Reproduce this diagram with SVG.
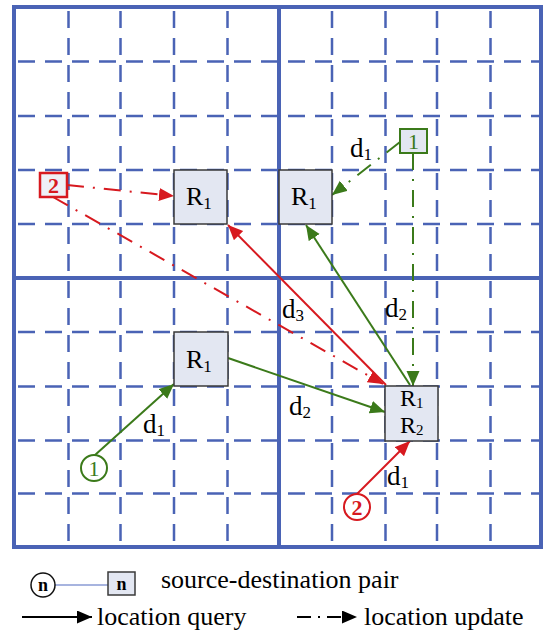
<svg xmlns="http://www.w3.org/2000/svg" width="543" height="635" viewBox="0 0 543 635">
<defs>
<marker id="ag" markerUnits="userSpaceOnUse" markerWidth="16" markerHeight="14" refX="15" refY="6.5" orient="auto"><path d="M0,0 L15,6.5 L0,13 z" fill="#3b7a1a"/></marker>
<marker id="ar" markerUnits="userSpaceOnUse" markerWidth="16" markerHeight="14" refX="15" refY="6.5" orient="auto"><path d="M0,0 L15,6.5 L0,13 z" fill="#d7191f"/></marker>
<marker id="ak" markerUnits="userSpaceOnUse" markerWidth="16" markerHeight="14" refX="15" refY="6.5" orient="auto"><path d="M0,0 L15,6.5 L0,13 z" fill="#000"/></marker>
</defs>
<style>
.grid{stroke:#4a63b5;stroke-width:2.5;stroke-dasharray:17 10;stroke-dashoffset:-4;fill:none}
.frame{stroke:#4a63b5;stroke-width:4;fill:none}
.box{fill:#e3e7f2;stroke:#3a3a3a;stroke-width:1.5}
.t{font-family:"Liberation Serif","Times New Roman",serif;font-size:26px;fill:#000}
.d{font-size:27px}
.sub{font-size:17px}
.gq{stroke:#3b7a1a;stroke-width:2;fill:none;marker-end:url(#ag)}
.gu{stroke:#3b7a1a;stroke-width:2;fill:none;stroke-dasharray:17 9 2 9;marker-end:url(#ag)}
.rq{stroke:#d7191f;stroke-width:2;fill:none;marker-end:url(#ar)}
.ru{stroke:#d7191f;stroke-width:2;fill:none;stroke-dasharray:17 9 2 9;marker-end:url(#ar)}
.g{fill:#3b7a1a}
.r{fill:#d7191f}
</style>
<rect width="543" height="635" fill="#fff"/>
<g id="grid">
<path class="grid" d="M68.5,7V547M120.5,7V547M174,7V547M227.5,7V547M332,7V547M385.5,7V547M437,7V547M490.5,7V547"/>
<path class="grid" d="M14,61.5H541M14,116H541M14,170H541M14,224H541M14,332H541M14,386.5H541M14,440.5H541M14,493.5H541"/>
<rect class="frame" x="14" y="7" width="527" height="540"/>
<path class="frame" d="M279,7V547M14,278H541"/>
</g>
<g id="connectors">
<line class="gq" x1="95" y1="455" x2="174" y2="384"/>
<line class="gq" x1="228" y1="358" x2="385" y2="412"/>
<line class="gq" x1="410" y1="385" x2="306" y2="225"/>
<line class="gu" x1="413" y1="153" x2="413" y2="386"/>
<line class="gu" x1="400" y1="142" x2="332" y2="195"/>
<line class="rq" x1="357" y1="494" x2="410" y2="441"/>
<line class="rq" x1="386" y1="385" x2="228" y2="225"/>
<line class="ru" x1="67" y1="185" x2="174" y2="196"/>
<line class="ru" x1="53" y1="197" x2="383" y2="384"/>
</g>
<g id="R1a"><rect class="box" x="174" y="170" width="53" height="54"/><text class="t" x="186" y="205">R<tspan class="sub" dy="4">1</tspan></text></g>
<g id="R1b"><rect class="box" x="279" y="170" width="53" height="54"/><text class="t" x="291" y="205">R<tspan class="sub" dy="4">1</tspan></text></g>
<g id="R1c"><rect class="box" x="174" y="332" width="54" height="54"/><text class="t" x="186" y="368">R<tspan class="sub" dy="4">1</tspan></text></g>
<g id="R12"><rect class="box" x="385" y="386" width="53" height="55"/><text class="t" x="400" y="406" style="font-size:24px">R<tspan dy="2" style="font-size:15px">1</tspan></text><text class="t" x="400" y="433" style="font-size:24px">R<tspan dy="2" style="font-size:15px">2</tspan></text></g>
<g id="src1"><circle cx="94" cy="468" r="13" fill="#fff" stroke="#3b7a1a" stroke-width="2"/><text class="t g" x="94" y="476" text-anchor="middle" style="font-size:22px">1</text></g>
<g id="dst1"><rect x="400" y="129" width="27" height="24" fill="#e3e7f2" stroke="#3b7a1a" stroke-width="2"/><text class="t g" x="413.5" y="149" text-anchor="middle" style="font-size:22px">1</text></g>
<g id="src2"><circle cx="357" cy="507" r="13" fill="#fff" stroke="#d7191f" stroke-width="2"/><text class="t r" x="357" y="515" text-anchor="middle" font-weight="bold" style="font-size:22px">2</text></g>
<g id="dst2"><rect x="40" y="173" width="27" height="24" fill="#eef0f6" stroke="#d7191f" stroke-width="2.5"/><text class="t r" x="53.5" y="193" text-anchor="middle" font-weight="bold" style="font-size:22px">2</text></g>
<g id="labels">
<text class="t d" x="143" y="433">d<tspan class="sub" dy="3">1</tspan></text>
<text class="t d" x="350" y="157">d<tspan class="sub" dy="3">1</tspan></text>
<text class="t d" x="385" y="317">d<tspan class="sub" dy="3">2</tspan></text>
<text class="t d" x="282" y="318">d<tspan class="sub" dy="3">3</tspan></text>
<text class="t d" x="289" y="415">d<tspan class="sub" dy="3">2</tspan></text>
<text class="t d" x="387" y="485">d<tspan class="sub" dy="3">1</tspan></text>
</g>
<g id="legend">
<line x1="55" y1="585" x2="108" y2="585" stroke="#8a9bd4" stroke-width="1.5"/>
<circle cx="43" cy="585" r="12" fill="#fff" stroke="#111" stroke-width="1.5"/>
<text class="t" x="43" y="591" text-anchor="middle" font-weight="bold" style="font-size:18px">n</text>
<rect class="box" x="108" y="572" width="27" height="23"/>
<text class="t" x="121.5" y="590" text-anchor="middle" font-weight="bold" style="font-size:18px">n</text>
<text class="t" x="161" y="588">source-destination pair</text>
<line x1="22" y1="617" x2="92" y2="617" stroke="#000" stroke-width="2" marker-end="url(#ak)"/>
<text class="t" x="97" y="625">location query</text>
<line x1="297" y1="617" x2="357" y2="617" stroke="#000" stroke-width="2" stroke-dasharray="14 7 2 7" marker-end="url(#ak)"/>
<text class="t" x="364" y="625">location update</text>
</g>
</svg>
